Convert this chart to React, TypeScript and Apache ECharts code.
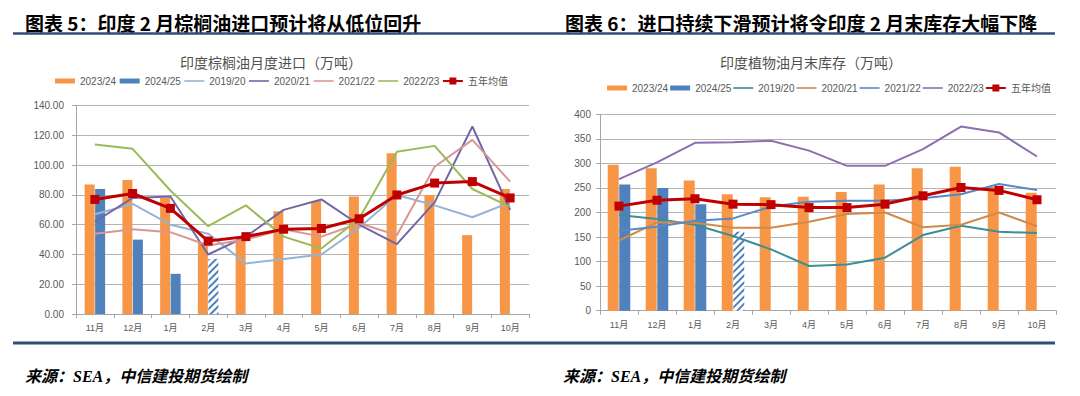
import React, { useEffect, useRef } from 'react';
import * as echarts from 'echarts';

const months = ['11月', '12月', '1月', '2月', '3月', '4月', '5月', '6月', '7月', '8月', '9月', '10月'];
const estimatedMonth = '2月';
const legendNames = ['2023/24', '2024/25', '2019/20', '2020/21', '2021/22', '2022/23', '五年均值'];

// Chart 5: India palm oil monthly imports (10k t)
const imp2324 = [87, 90, 78, 48, 51, 69, 76, 79, 108, 80, 53, 84];
const imp2425 = [84, 50, 27, 37, null, null, null, null, null, null, null, null];
const imp1920 = [67, 74, 60, 54, 34, 37, 40, 58, 80, 73, 65, 75];
const imp2021 = [62, 78, 79, 40, 52, 70, 77, 60, 47, 75, 126, 70];
const imp2122 = [54, 57, 55, 46, 50, 57, 52, 61, 53, 99, 117, 89];
const imp2223 = [114, 111, 83, 59, 73, 52, 44, 64, 109, 113, 84, 72];
const impAvg = [77, 81, 71, 49, 52, 57, 57.5, 64, 80, 88, 89, 78];

// Chart 6: India vegetable oil month-end stocks (10k t)
const stk2324 = [297, 290, 265, 237, 231, 232, 242, 257, 290, 293, 252, 240];
const stk2425 = [257, 250, 217, 161, null, null, null, null, null, null, null, null];
const stk1920 = [195, 187, 175, 152, 125, 91, 94, 108, 154, 173, 161, 158];
const stk2021 = [143, 180, 179, 169, 169, 181, 197, 200, 170, 175, 200, 172];
const stk2122 = [163, 171, 183, 188, 212, 222, 224, 224, 229, 237, 258, 246];
const stk2223 = [268, 302, 342, 343, 346, 326, 295, 295, 329, 375, 363, 314];
const stkAvg = [213, 225, 228, 217, 216, 210, 210, 217, 234, 251, 245, 226];

const ORANGE = '#F79646';
const BLUE = '#4F81BD';
const RED = '#C00000';
const leftLineColors = ['#95B3D7', '#7366A8', '#D99694', '#9BBB59'];
const rightLineColors = ['#3D8E98', '#D08A4C', '#5A88C2', '#8B6FAF'];

const GRAY_TEXT = '#595959';
const AXIS_GRAY = '#A6A6A6';
const SPLIT_GRAY = '#B4B4B4';
const NAVY = '#2F4E79';
const LATIN = '"Liberation Sans", "Noto Sans CJK SC", sans-serif';

const barIcon = 'path://M0,0H20V5H0Z';
const lineIcon = 'path://M0,0H20V1.6H0Z';
const meanIcon = 'path://M0,2.5H6.5V0H13.5V2.5H20V4.5H13.5V7H6.5V4.5H0Z';

const hatchStyle = {
  color: '#ffffff',
  decal: {
    symbol: 'rect',
    symbolSize: 1,
    color: BLUE,
    backgroundColor: '#ffffff',
    dashArrayX: [1, 0],
    dashArrayY: [2, 3],
    rotation: -Math.PI / 4,
  },
};

function withEstimate(values: (number | null)[]) {
  return values.map((v, i) =>
    months[i] === estimatedMonth && v != null ? { value: v, itemStyle: hatchStyle } : v
  );
}

function legendData(lineColors: string[]) {
  return legendNames.map((name, i) => {
    if (i === 0) return { name, icon: barIcon, itemStyle: { color: ORANGE } };
    if (i === 1) return { name, icon: barIcon, itemStyle: { color: BLUE } };
    if (i === 6) return { name, icon: meanIcon, itemStyle: { color: RED } };
    return { name, icon: lineIcon, itemStyle: { color: lineColors[i - 2] } };
  });
}

function buildSeries(
  idx: number,
  bars: [(number | null)[], (number | null)[]],
  lines: number[][],
  avg: number[],
  lineColors: string[],
  barWidth: number
) {
  const s: any[] = [
    {
      name: legendNames[0], type: 'bar', xAxisIndex: idx, yAxisIndex: idx,
      data: bars[0], barWidth, barGap: '5%', itemStyle: { color: ORANGE }, z: 1,
    },
    {
      name: legendNames[1], type: 'bar', xAxisIndex: idx, yAxisIndex: idx,
      data: withEstimate(bars[1]), barWidth, barGap: '5%', itemStyle: { color: BLUE }, z: 1,
    },
  ];
  lines.forEach((vals, i) => {
    s.push({
      name: legendNames[i + 2], type: 'line', xAxisIndex: idx, yAxisIndex: idx,
      data: vals, symbol: 'none', lineStyle: { color: lineColors[i], width: 2 },
      itemStyle: { color: lineColors[i] }, z: 3,
    });
  });
  s.push({
    name: legendNames[6], type: 'line', xAxisIndex: idx, yAxisIndex: idx,
    data: avg, symbol: 'rect', symbolSize: 9,
    lineStyle: { color: RED, width: 3 }, itemStyle: { color: RED }, z: 5,
  });
  return s;
}

function xAxis(gridIndex: number, margin: number) {
  return {
    type: 'category', gridIndex, data: months, boundaryGap: true,
    axisLine: { show: true, lineStyle: { color: AXIS_GRAY, width: 1 } },
    axisTick: { show: true, length: 4, lineStyle: { color: AXIS_GRAY } },
    axisLabel: { color: GRAY_TEXT, fontSize: 9, fontFamily: LATIN, margin, interval: 0 },
    splitLine: { show: false },
  };
}

function yAxis(gridIndex: number, max: number, interval: number, decimals: number, margin: number) {
  return {
    type: 'value', gridIndex, min: 0, max, interval,
    axisLine: { show: true, lineStyle: { color: AXIS_GRAY, width: 1 } },
    axisTick: { show: true, length: 4, lineStyle: { color: AXIS_GRAY } },
    axisLabel: {
      color: GRAY_TEXT, fontSize: 10, fontFamily: LATIN, margin,
      formatter: (v: number) => v.toFixed(decimals),
    },
    splitLine: { show: true, lineStyle: { color: SPLIT_GRAY, width: 1 } },
  };
}

function legend(left: number, top: number, gap: number, lineColors: string[]) {
  return {
    left, top, orient: 'horizontal', itemWidth: 20, itemHeight: 7, itemGap: gap,
    symbolKeepAspect: true, selectedMode: false, padding: 0,
    itemStyle: { borderWidth: 0 },
    textStyle: { color: GRAY_TEXT, fontSize: 10, fontFamily: LATIN },
    data: legendData(lineColors),
  };
}

export default function App() {
  const ref = useRef<HTMLDivElement>(null);
  useEffect(() => {
    document.body.style.margin = '0';
    if (!ref.current) return;
    const chart = echarts.init(ref.current, undefined, { renderer: 'svg' });
    const option: any = {
      animation: false,
      backgroundColor: '#ffffff',
      grid: [
        { left: 76, right: 551, top: 105.7, bottom: 82, containLabel: false },
        { left: 600, right: 24, top: 114.3, bottom: 85.3, containLabel: false },
      ],
      xAxis: [xAxis(0, 9), xAxis(1, 10)],
      yAxis: [yAxis(0, 140, 20, 2, 12), yAxis(1, 400, 50, 0, 9)],
      legend: [legend(55, 76, 3.5, leftLineColors), legend(607, 83, 2, rightLineColors)],
      series: [
        ...buildSeries(0, [imp2324, imp2425], [imp1920, imp2021, imp2122, imp2223], impAvg, leftLineColors, 10),
        ...buildSeries(1, [stk2324, stk2425], [stk1920, stk2021, stk2122, stk2223], stkAvg, rightLineColors, 11),
      ],
      graphic: [
        {
          type: 'text', x: 25, y: 22,
          style: {
            text: '图表 5：印度 2 月棕榈油进口预计将从低位回升',
            font: 'bold 19px "Noto Sans CJK SC", sans-serif', fill: '#000000',
            textVerticalAlign: 'middle', verticalAlign: 'middle',
          },
        },
        {
          type: 'text', x: 565, y: 22,
          style: {
            text: '图表 6：进口持续下滑预计将令印度 2 月末库存大幅下降',
            font: 'bold 19px "Noto Sans CJK SC", sans-serif', fill: '#000000',
            textVerticalAlign: 'middle', verticalAlign: 'middle',
          },
        },
        {
          type: 'line', shape: { x1: 13, y1: 33.5, x2: 1055, y2: 33.5 },
          style: { stroke: NAVY, lineWidth: 2.5 },
        },
        {
          type: 'text', x: 271, y: 62,
          style: {
            text: '印度棕榈油月度进口（万吨）',
            font: '14px "Noto Sans CJK SC", serif', fill: '#505050',
            textAlign: 'center', align: 'center', textVerticalAlign: 'middle', verticalAlign: 'middle',
          },
        },
        {
          type: 'text', x: 811, y: 62,
          style: {
            text: '印度植物油月末库存（万吨）',
            font: '14px "Noto Sans CJK SC", serif', fill: '#505050',
            textAlign: 'center', align: 'center', textVerticalAlign: 'middle', verticalAlign: 'middle',
          },
        },
        {
          type: 'line', shape: { x1: 13, y1: 343, x2: 1055, y2: 343 },
          style: { stroke: NAVY, lineWidth: 3 },
        },
        {
          type: 'text', x: 25, y: 376,
          style: {
            text: '来源：SEA，中信建投期货绘制',
            font: 'italic bold 16px "Liberation Serif", "Noto Sans CJK SC", serif', fill: '#000000',
            textVerticalAlign: 'middle', verticalAlign: 'middle',
          },
        },
        {
          type: 'text', x: 563, y: 376,
          style: {
            text: '来源：SEA，中信建投期货绘制',
            font: 'italic bold 16px "Liberation Serif", "Noto Sans CJK SC", serif', fill: '#000000',
            textVerticalAlign: 'middle', verticalAlign: 'middle',
          },
        },
      ],
    };
    chart.setOption(option);
    return () => chart.dispose();
  }, []);
  return <div ref={ref} style={{ width: 1080, height: 396 }} />;
}
